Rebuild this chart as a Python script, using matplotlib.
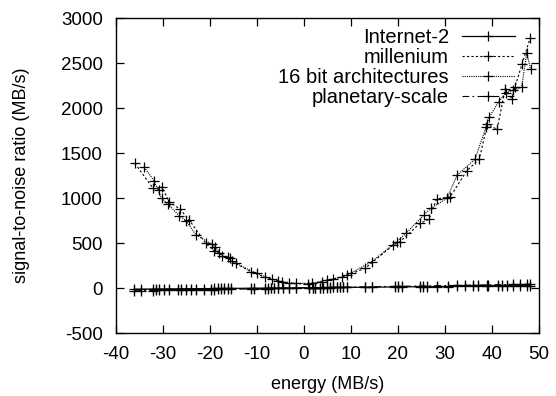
import numpy as np
import matplotlib
matplotlib.use('Agg')
import matplotlib.pyplot as plt

plt.rcParams['font.family'] = ['Liberation Sans', 'DejaVu Sans']
plt.rcParams['axes.unicode_minus'] = False

# flat series (Internet-2 / planetary-scale)
flat_x = [-36.1, -34.7, -32.2, -31.5, -30.9, -29.7, -28.7, -26.9, -26.2, -25.1, -24.0, -23.0, -21.2, -19.8,
          -19.1, -18.4, -17.7, -17.0, -16.2, -15.5, -11.3, -10.6, -8.4, -7.7, -7.0, -6.3, -5.6, -4.5, -3.1,
          -1.7, 1.1, 1.9, 2.3, 3.4, 4.1, 4.8, 5.5, 6.2, 7.0, 7.7, 8.4, 9.1, 13.0, 14.4, 19.4, 20.1, 20.8,
          24.7, 25.4, 26.1, 28.2, 30.7, 32.5, 34.3, 36.0, 37.1, 38.9, 39.2, 41.3, 42.1, 43.1, 44.5, 46.0,
          47.4, 48.1]
internet2_y = [-13, -12, -11, -10, -11, -10, -9, -9, -8, -8, -7, -7, -6, -6, -5, -5, -5, -4, -4, -4, -2, -2,
               -1, -1, 0, 0, 0, 1, 1, 2, 3, 3, 4, 4, 5, 5, 5, 6, 6, 6, 7, 7, 9, 10, 12, 12, 13, 14, 15, 15,
               16, 17, 18, 19, 20, 21, 22, 22, 23, 23, 24, 25, 25, 26, 27]
planetary_y = [-30, -29, -28, -27, -27, -26, -25, -24, -23, -22, -21, -20, -19, -18, -17, -16, -16, -15, -14,
               -14, -10, -9, -7, -6, -5, -5, -4, -3, -2, 0, 2, 3, 3, 4, 5, 6, 6, 7, 8, 8, 9, 10, 13, 14, 18,
               19, 19, 23, 23, 24, 26, 28, 29, 31, 32, 33, 35, 35, 37, 38, 38, 40, 41, 42, 43]

# parabola series
millenium_x = [-36.0, -32.1, -30.8, -30.2, -28.7, -26.4, -24.4, -20.9, -19.1, -18.0, -16.2, -15.4, -11.3,
               -8.3, -5.5, -3.1, 0.9, 3.8, 6.2, 9.1, 13.0, 19.0, 20.4, 24.7, 26.6, 28.2, 31.1, 34.6, 37.3,
               39.0, 41.1, 42.8, 44.2, 44.9, 46.4, 48.1]
millenium_y = [1385, 1108, 1089, 1125, 959, 878, 755, 497, 414, 385, 341, 300, 181, 119, 81, 52, 44, 70, 100,
               141, 219, 478, 514, 719, 763, 989, 1014, 1300, 1433, 1818, 1763, 2211, 2100, 2237, 2489, 2774]
bit16_x = [-34.0, -31.9, -30.3, -28.9, -26.5, -25.1, -23.0, -19.6, -18.9, -17.5, -15.7, -14.5, -10.1, -6.9,
           -4.7, -1.6, 1.6, 4.8, 8.0, 10.1, 14.4, 19.7, 21.7, 25.5, 27.0, 30.4, 32.6, 36.4, 38.7, 39.4, 41.4,
           42.9, 44.5, 46.3, 47.4, 48.2]
bit16_y = [1341, 1192, 997, 930, 800, 748, 592, 485, 459, 356, 330, 274, 163, 100, 70, 52, 52, 89, 119, 170,
           292, 514, 608, 811, 885, 997, 1255, 1433, 1785, 1896, 2070, 2163, 2200, 2230, 2615, 2430]

fig = plt.figure(figsize=(5.56, 3.96), dpi=100)
ax = fig.add_axes([0.2086, 0.159, 0.7608, 0.7955])

mk = dict(marker='+', markersize=6.5, markeredgewidth=0.9, color='black')
ax.plot(flat_x, internet2_y, linestyle='-', linewidth=0.9, label='Internet-2', **mk)
ax.plot(millenium_x, millenium_y, linestyle=(0, (2, 2)), linewidth=0.8, label='millenium', **mk)
ax.plot(bit16_x, bit16_y, linestyle=(0, (1, 1)), linewidth=0.8, label='16 bit architectures', **mk)
ax.plot(flat_x, planetary_y, linestyle=(0, (6, 3, 1.5, 3)), linewidth=0.8, label='planetary-scale', **mk)

ax.set_xlim(-40, 50)
ax.set_ylim(-500, 3000)
ax.set_xticks(range(-40, 51, 10))
ax.set_yticks(range(-500, 3001, 500))
ax.tick_params(direction='in', length=6, width=0.9, top=True, right=True, labelsize=13.5)
ax.tick_params(axis='x', pad=9)
ax.tick_params(axis='y', pad=9.5)
for s in ax.spines.values():
    s.set_linewidth(1.0)
ax.set_xlabel('energy (MB/s)', fontsize=13, labelpad=10)
ax.set_ylabel('signal-to-noise ratio (MB/s)', fontsize=13, labelpad=22)

leg = ax.legend(loc='upper right', bbox_to_anchor=(0.943, 0.968), frameon=False, markerfirst=False,
                numpoints=1, fontsize=14.5, handlelength=2.65, handletextpad=0.63, labelspacing=0.05,
                borderpad=0, borderaxespad=0)
# right-align the key entries, gnuplot style
for col in leg._legend_handle_box.get_children():
    col.align = 'right'

fig.savefig('out.png', dpi=100)
